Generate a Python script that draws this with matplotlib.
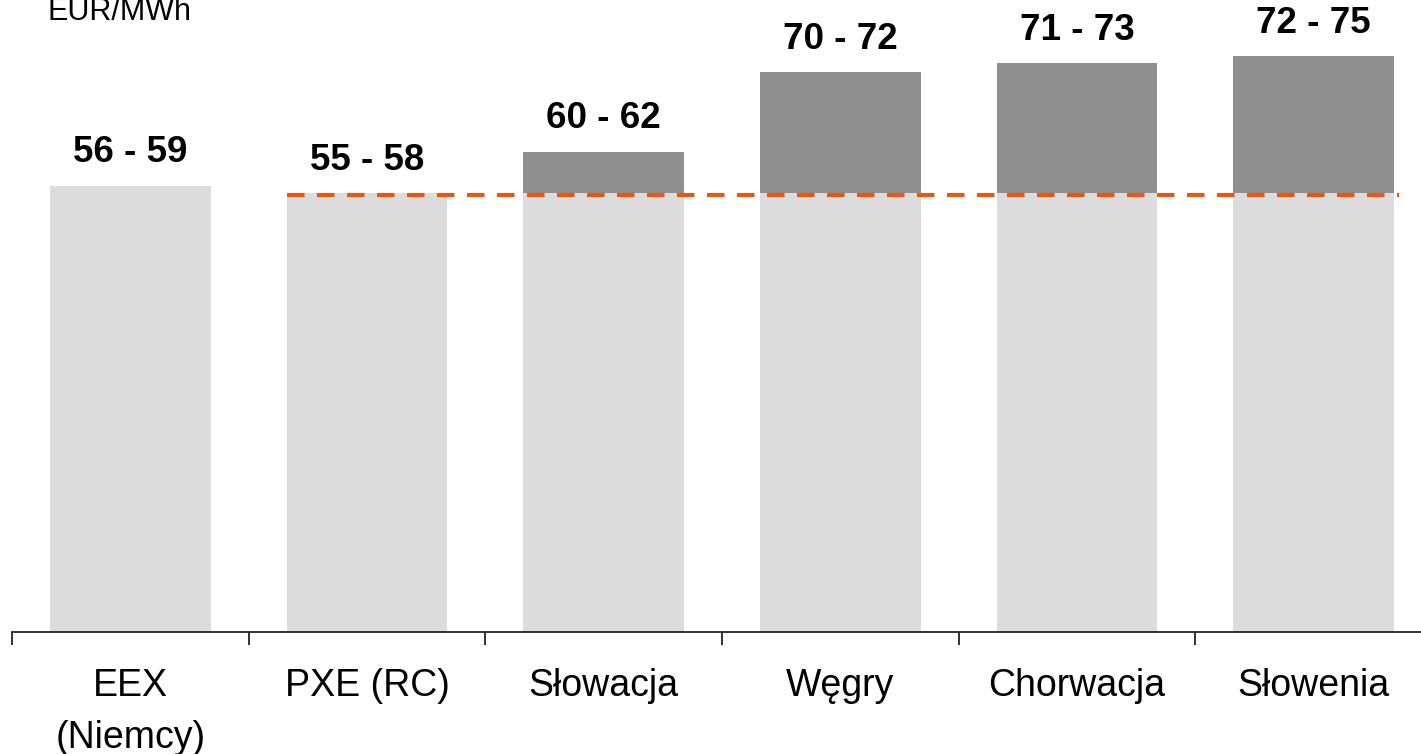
import matplotlib
matplotlib.use("Agg")
import matplotlib.pyplot as plt
import numpy as np

plt.rcParams["font.family"] = ["Liberation Sans", "DejaVu Sans"]

# ─── DATA ────────────────────────────────────────────────────────────────────
categories = ["EEX\n(Niemcy)", "PXE (RC)", "Słowacja", "Węgry", "Chorwacja", "Słowenia"]
range_labels = ["56 - 59", "55 - 58", "60 - 62", "70 - 72", "71 - 73", "72 - 75"]
base_values = [58.0, 57.0, 57.0, 57.0, 57.0, 57.0]       # EUR/MWh, light part
top_values = [58.0, 57.0, 62.4, 72.7, 73.9, 74.8]         # EUR/MWh, bar top
reference_level = 56.8                                     # PXE level (dashed line)

LIGHT = "#dcdcdc"
DARK = "#8f8f8f"
ORANGE = "#e8560f"

# ─── FIGURE ──────────────────────────────────────────────────────────────────
fig = plt.figure(figsize=(14.21, 7.54), dpi=100)
ax = fig.add_axes([12 / 1421, (754 - 632) / 754, 1420 / 1421, 632 / 754])

x = np.arange(len(categories))
width = 0.68
base = np.array(base_values)
top = np.array(top_values)

ax.bar(x, base, width=width, color=LIGHT, zorder=2)
extra = top - base
ax.bar(x, extra, bottom=base, width=width, color=DARK, zorder=2)

# dashed reference line from PXE bar to the last bar
ax.plot([x[1] - width / 2, x[-1] + width / 2 + 0.02], [reference_level] * 2,
        color=ORANGE, linewidth=3, linestyle=(0, (4.2, 3.0)), zorder=3)

for xi, yi, lab in zip(x, top, range_labels):
    ax.annotate(lab, (xi, yi), xytext=(0, 11), textcoords="offset points",
                ha="center", va="bottom", fontsize=26.5, fontweight="bold",
                color="black")

ax.set_xlim(-0.5, 5.5)
ax.set_ylim(0, 82.1)

for s in ["top", "left", "right"]:
    ax.spines[s].set_visible(False)
ax.spines["bottom"].set_color("#222222")
ax.spines["bottom"].set_linewidth(1.3)
ax.set_yticks([])

ax.set_xticks(x)
ax.set_xticklabels(categories, fontsize=27, linespacing=1.55)
ax.tick_params(axis="x", which="major", length=0, pad=26)
ax.set_xticks(np.arange(-0.5, 6.0, 1.0), minor=True)
ax.tick_params(axis="x", which="minor", length=9.5, width=1.3, color="#222222",
               direction="out")

fig.text(47 / 1421, 1.0 + 3 / 754, "EUR/MWh", fontsize=22, ha="left", va="top")

fig.savefig("out.png", dpi=100)
